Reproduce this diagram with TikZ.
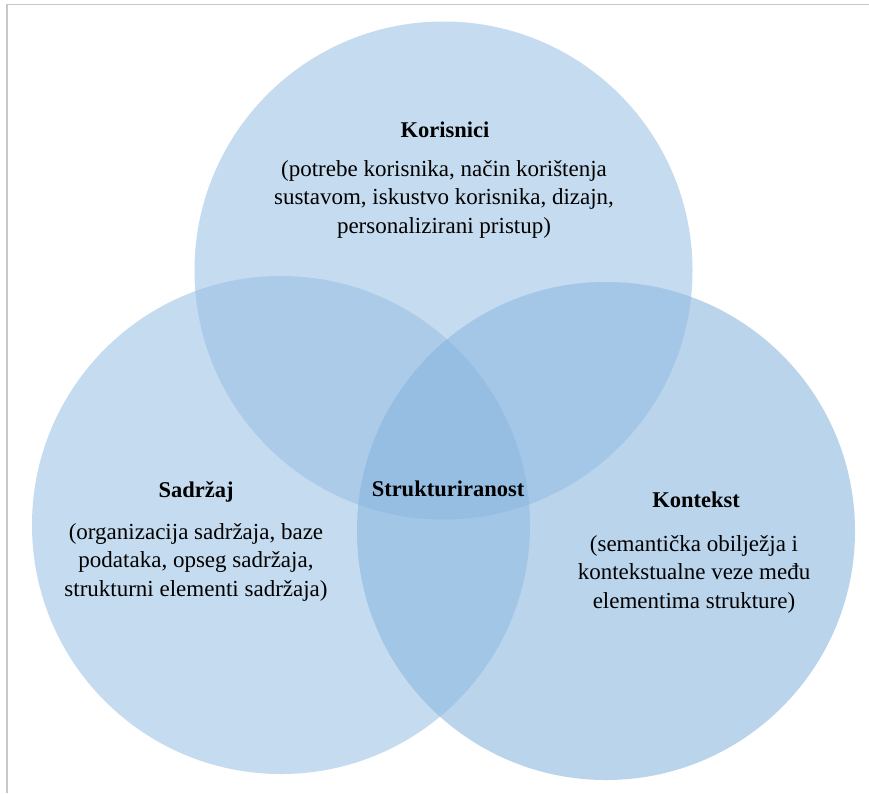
\documentclass[tikz,border=0pt]{standalone}
\usepackage{fontspec}
\setmainfont{Liberation Serif}
\definecolor{singleA}{HTML}{C5DBEF}
\definecolor{singleR}{HTML}{BAD4EC}
\definecolor{pairTL}{HTML}{ABCBE8}
\definecolor{pairTR}{HTML}{A4C7E8}
\definecolor{pairLR}{HTML}{A2C6E6}
\definecolor{triple}{HTML}{96BEE3}
\definecolor{frameline}{HTML}{C8C8C8}
\begin{document}
\begin{tikzpicture}[x=1pt,y=-1pt,
  venn/.style={circle, minimum size=498pt, inner sep=0pt, draw=none},
  head/.style={font=\fontsize{22.5}{28.5}\selectfont\bfseries, inner sep=0pt},
  body/.style={font=\fontsize{23}{28.5}\selectfont, align=center, inner sep=0pt}]
\useasboundingbox (0,0) rectangle (869,793);
\fill[white] (0,0) rectangle (869,793);
\draw[frameline, line width=1.2pt] (7,793) -- (7,4.5) -- (869,4.5);
\coordinate (ct) at (443.5,270.5);
\coordinate (cl) at (281,525);
\coordinate (cr) at (606,531);
\node[venn, fill=singleA] (top)   at (ct) {};
\node[venn, fill=singleA] (left)  at (cl) {};
\node[venn, fill=singleR] (right) at (cr) {};
\begin{scope}
  \clip (ct) circle (249pt);
  \fill[pairTL] (cl) circle (249pt);
  \fill[pairTR] (cr) circle (249pt);
\end{scope}
\begin{scope}
  \clip (cl) circle (249pt);
  \fill[pairLR] (cr) circle (249pt);
\end{scope}
\begin{scope}
  \clip (ct) circle (249pt);
  \clip (cl) circle (249pt);
  \fill[triple] (cr) circle (249pt);
\end{scope}
\node[head] (korisnici) at (445,130) {Korisnici};
\node[body] (korisnicit) at (444,199) {(potrebe korisnika, način korištenja\\sustavom, iskustvo korisnika, dizajn,\\personalizirani pristup)};
\node[head] (sadrzaj) at (196,492) {Sadržaj};
\node[body] (sadrzajt) at (196,562) {(organizacija sadržaja, baze\\podataka, opseg sadržaja,\\strukturni elementi sadržaja)};
\node[head] (kontekst) at (696,500) {Kontekst};
\node[body] (kontekstt) at (694,574) {(semantička obilježja i\\kontekstualne veze među\\elementima strukture)};
\node[head] (strukt) at (448,489) {Strukturiranost};
\end{tikzpicture}
\end{document}
